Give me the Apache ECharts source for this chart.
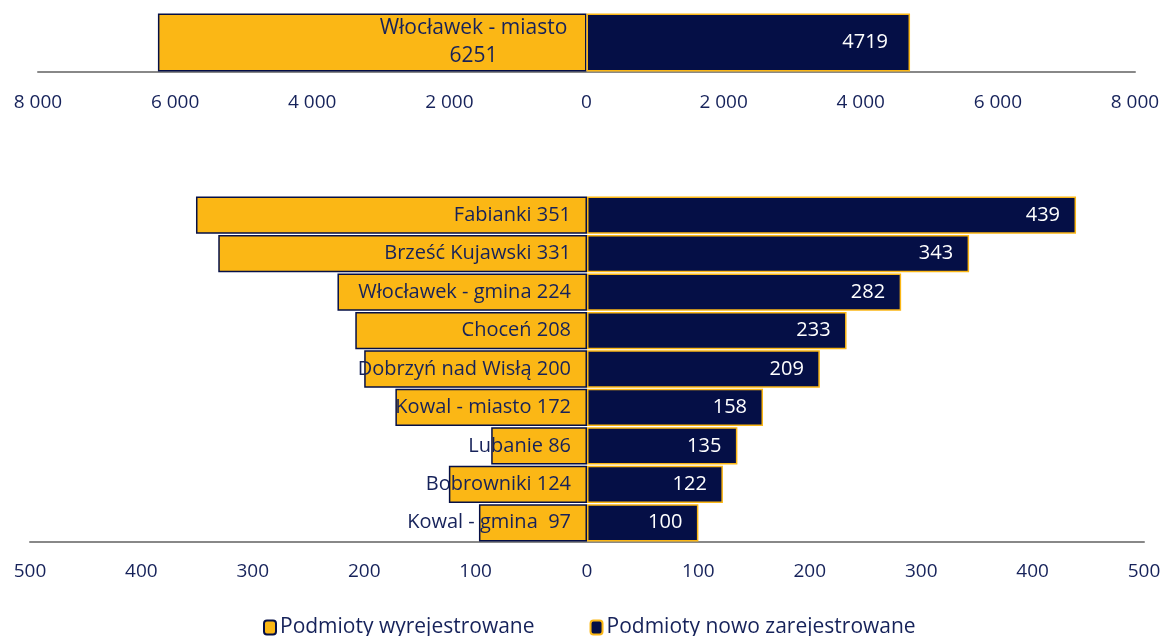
<!DOCTYPE html>
<html>
<head>
<meta charset="utf-8">
<script src="https://cdn.jsdelivr.net/npm/echarts@6/dist/echarts.min.js"></script>
<style>
  html, body { margin: 0; padding: 0; background: #fff; }
  #chart { width: 1164px; height: 636px; }
</style>
</head>
<body>
<div id="chart"></div>
<script>
// dane - miasto (górny wykres)
const topCategories = ['Włocławek - miasto'];
const topRemoved = [6251];
const topNew = [4719];

// dane - gminy (dolny wykres)
const categories = ['Fabianki', 'Brześć Kujawski', 'Włocławek - gmina', 'Choceń', 'Dobrzyń nad Wisłą',
    'Kowal - miasto', 'Lubanie', 'Bobrowniki', 'Kowal - gmina '];
const removed = [351, 331, 224, 208, 200, 172, 86, 124, 97];
const newReg = [439, 343, 282, 233, 209, 158, 135, 122, 100];

const seriesNames = ['Podmioty wyrejestrowane', 'Podmioty nowo zarejestrowane'];

const ORANGE = '#FBB715';
const NAVY = '#050F46';
const TEXT = '#16225A';
const FONT = 'Open Sans';

function fmt(v) {
    return String(Math.abs(v)).replace(/\B(?=(\d{3})+(?!\d))/g, ' ');
}

const myEcharts = echarts.init(document.getElementById('chart'));

const axisCommon = {
    type: 'value',
    axisTick: { show: false },
    splitLine: { show: false },
    axisLine: { show: true, lineStyle: { color: '#888888', width: 2 } }
};

const option = {
    animation: false,
    textStyle: { fontFamily: FONT },
    grid: [
        { left: 38, right: 29, top: 13, height: 59 },
        { left: 30, right: 20, top: 196, height: 346 }
    ],
    legend: {
        top: 612,
        left: 258,
        itemWidth: 12,
        itemHeight: 14,
        itemGap: 55,
        data: seriesNames,
        textStyle: { color: TEXT, fontSize: 21, fontFamily: FONT, padding: [0, 0, 0, -1] }
    },
    xAxis: [
        Object.assign({}, axisCommon, {
            gridIndex: 0, min: -8000, max: 8000, interval: 2000,
            axisLabel: { margin: 21, color: TEXT, fontSize: 19, formatter: fmt }
        }),
        Object.assign({}, axisCommon, {
            gridIndex: 1, min: -500, max: 500, interval: 100,
            axisLabel: { margin: 20, color: TEXT, fontSize: 19, formatter: fmt }
        })
    ],
    yAxis: [
        { type: 'category', gridIndex: 0, data: topCategories, show: false },
        { type: 'category', gridIndex: 1, data: categories, inverse: true, show: false }
    ],
    series: [
        {
            name: seriesNames[0], type: 'bar', stack: 'top',
            xAxisIndex: 0, yAxisIndex: 0, barWidth: 58,
            itemStyle: { color: ORANGE, borderColor: NAVY, borderWidth: 1.5 },
            label: {
                show: true, position: 'insideRight', distance: 16, color: TEXT,
                formatter: p => '{a|' + p.name + '}\n{a|' + (-p.value) + '}',
                rich: { a: { width: 194, align: 'center', lineHeight: 28, fontSize: 21, color: TEXT } }
            },
            data: topRemoved.map(v => -v)
        },
        {
            name: seriesNames[1], type: 'bar', stack: 'top',
            xAxisIndex: 0, yAxisIndex: 0, barWidth: 58,
            itemStyle: { color: NAVY, borderColor: ORANGE, borderWidth: 1.5 },
            label: { show: true, position: 'insideRight', distance: 22, color: '#ffffff', fontSize: 20 },
            data: topNew
        },
        {
            name: seriesNames[0], type: 'bar', stack: 'bottom',
            xAxisIndex: 1, yAxisIndex: 1, barCategoryGap: '3%',
            itemStyle: { color: ORANGE, borderColor: NAVY, borderWidth: 1.5 },
            label: {
                show: true, position: 'insideRight', distance: 16, color: TEXT, fontSize: 20,
                formatter: p => p.name + ' ' + (-p.value)
            },
            data: removed.map(v => -v)
        },
        {
            name: seriesNames[1], type: 'bar', stack: 'bottom',
            xAxisIndex: 1, yAxisIndex: 1, barCategoryGap: '3%',
            itemStyle: { color: NAVY, borderColor: ORANGE, borderWidth: 1.5 },
            label: { show: true, position: 'insideRight', distance: 16, color: '#ffffff', fontSize: 20 },
            data: newReg
        }
    ]
};

myEcharts.setOption(option);
</script>
</body>
</html>
